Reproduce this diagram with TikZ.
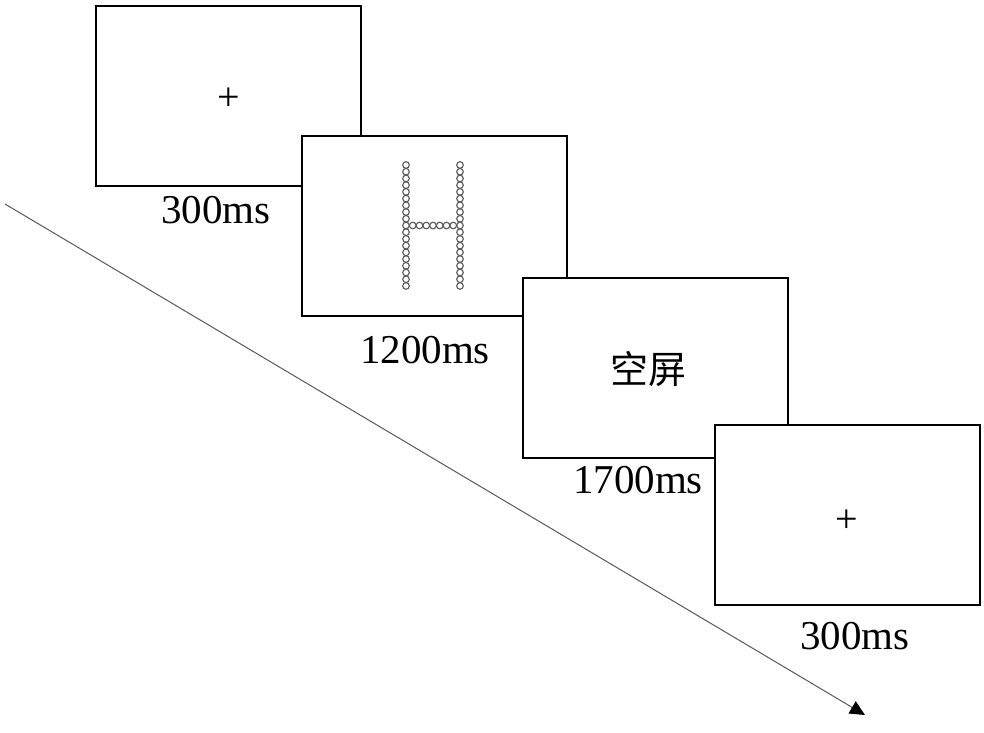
\documentclass[tikz,border=0pt]{standalone}
\usepackage{fontspec}
\newfontfamily\labfont{Liberation Serif}
\newfontfamily\cjkfont{Noto Sans CJK SC}
\usetikzlibrary{arrows.meta}
\begin{document}
\begin{tikzpicture}[x=1pt,y=-1pt,
  screen/.style={draw=black,line width=2pt,fill=white,minimum width=265pt,minimum height=180pt,inner sep=0pt},
  dur/.style={font=\labfont\fontsize{41}{41}\selectfont,inner sep=0pt},
  fix/.style={font=\labfont\fontsize{40}{40}\selectfont,inner sep=0pt},
  dot/.style={draw=black!65,line width=1.1pt,circle,minimum size=6.6pt,inner sep=0pt,fill=white},
  timeline/.style={draw=gray!70!black,line width=1pt,-{Triangle[length=15pt,width=14pt,fill=black,color=black]}}]
\useasboundingbox[fill=white] (0,0) rectangle (984,732);
\coordinate (tstart) at (5,204);
\coordinate (tend) at (865,715);
\draw[timeline] (tstart) -- (tend);
\node[screen] (s1) at (228.5,95.5) {};
\node[fix] (p1) at (229,99) {+};
\node[dur] (l1) at (216,210) {300ms};
\node[screen] (s2) at (434,226) {};
\foreach \i in {0,...,18}{
  \node[dot] (hl\i) at (406,165+\i*6.72) {};
  \node[dot] (hr\i) at (460,165+\i*6.72) {};
}
\foreach \k in {1,...,7}{
  \node[dot] (hc\k) at (406+\k*6.75,225.5) {};
}
\node[dur] (l2) at (425,350) {1200ms};
\node[screen] (s3) at (655,368) {};
\node[font=\cjkfont\fontsize{38}{38}\selectfont,inner sep=0pt] (blank) at (648,369) {空屏};
\node[dur] (l3) at (638,480) {1700ms};
\node[screen] (s4) at (847.5,514.5) {};
\node[fix] (p4) at (847,521) {+};
\node[dur] (l4) at (855,636) {300ms};
\end{tikzpicture}
\end{document}
